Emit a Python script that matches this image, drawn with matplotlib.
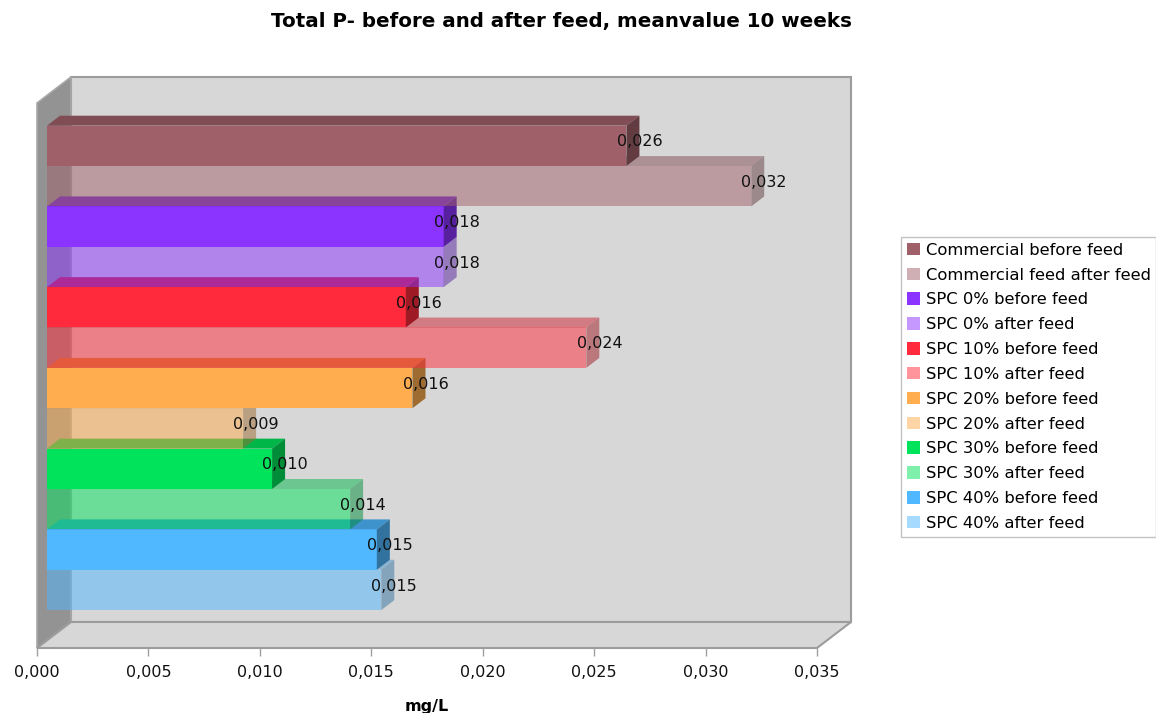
import numpy as np
import matplotlib.pyplot as plt
from matplotlib.patches import Polygon, Patch
from matplotlib.colors import to_rgb
from matplotlib.ticker import FuncFormatter

title = 'Total P- before and after feed, meanvalue 10 weeks'
series = ['Commercial before feed', 'Commercial feed after feed',
          'SPC 0% before feed', 'SPC 0% after feed',
          'SPC 10% before feed', 'SPC 10% after feed',
          'SPC 20% before feed', 'SPC 20% after feed',
          'SPC 30% before feed', 'SPC 30% after feed',
          'SPC 40% before feed', 'SPC 40% after feed']
values = [0.0260, 0.0316, 0.0178, 0.0178, 0.0161, 0.0242,
          0.0164, 0.0088, 0.0101, 0.0136, 0.0148, 0.0150]
group_colors = ['#a0606a', '#8b33ff', '#ff2a3c', '#ffad4f', '#00e35a', '#4fb8ff']
x_max = 0.035
x_step = 0.005

W, H = 1156, 713
fig = plt.figure(figsize=(W / 100, H / 100), dpi=100)
ax = fig.add_axes([37 / W, 65 / H, 780 / W, 545 / H])
y_top = 13.5
ax.set_xlim(0, x_max)
ax.set_ylim(0, y_top)
for s in ax.spines.values():
    s.set_visible(False)
ax.patch.set_visible(False)

# pixel -> data scale, depth runs up and to the right
sx = x_max / 780
sy = y_top / 545
slope = 26 / 34


def shift(x, y, d):
    return (x + d * sx, y + d * slope * sy)


def shade(c, f):
    return tuple(np.array(to_rgb(c)) * f)


wall_edge = '#9c9c9c'
# back wall, side wall and floor
ax.add_patch(Polygon([shift(0, 0, 34), shift(x_max, 0, 34), shift(x_max, y_top, 34), shift(0, y_top, 34)],
                     closed=True, facecolor='#d7d7d7', edgecolor=wall_edge, lw=1.5, clip_on=False, zorder=1))
ax.add_patch(Polygon([(0, 0), (0, y_top), shift(0, y_top, 34), shift(0, 0, 34)],
                     closed=True, facecolor='#939393', edgecolor='#a8a8a8', lw=1.2, clip_on=False, zorder=1))
ax.add_patch(Polygon([(0, 0), (x_max, 0), shift(x_max, 0, 34), shift(0, 0, 34)],
                     closed=True, facecolor='#d7d7d7', edgecolor=wall_edge, lw=1.5, clip_on=False, zorder=1))

colors = [group_colors[i // 2] for i in range(len(series))]
alphas = [1.0 if i % 2 == 0 else 0.5 for i in range(len(series))]

d0, d1 = 10, 23
n = len(series)
z = 2
for i in reversed(range(n)):
    v = values[i]
    y0 = 0.75 + (n - 1 - i)
    y1 = y0 + 1
    c, a = colors[i], alphas[i]
    front = [shift(0, y0, d0), shift(v, y0, d0), shift(v, y1, d0), shift(0, y1, d0)]
    top = [shift(0, y1, d0), shift(v, y1, d0), shift(v, y1, d1), shift(0, y1, d1)]
    right = [shift(v, y0, d0), shift(v, y0, d1), shift(v, y1, d1), shift(v, y1, d0)]
    for pts, f in ((front, 1.0), (top, 0.8), (right, 0.62)):
        ax.add_patch(Polygon(pts, closed=True, facecolor=shade(c, f), alpha=a,
                             lw=0, clip_on=False, zorder=z))
        z += 1

# value labels
for i, v in enumerate(values):
    yc = 0.75 + (n - 1 - i) + 0.5
    tx = v + d1 * sx
    ty = yc + 15 * slope * sy
    ax.text(tx, ty, f'{v:.3f}'.replace('.', ','), ha='center', va='center',
            fontsize=11.5, color='#111111', zorder=100, clip_on=False)

ax.set_xticks(np.arange(0, x_max + x_step / 2, x_step))
ax.xaxis.set_major_formatter(FuncFormatter(lambda v, _: f'{v:.3f}'.replace('.', ',')))
ax.set_yticks([])
ax.tick_params(axis='x', direction='out', length=6, width=1, color='#a0a0a0',
               labelsize=11.5, pad=6, labelcolor='#111111')
ax.set_xlabel('mg/L', fontsize=11.5, fontweight='bold', labelpad=14)

fig.text(561.5 / W, 1 - 21 / H, title, ha='center', va='center',
         fontsize=14.3, fontweight='bold')

handles = [Patch(facecolor=c, alpha=a, edgecolor='none') for c, a in zip(colors, alphas)]
leg = fig.legend(handles, series, loc='upper left', bbox_to_anchor=(901 / W, 1 - 237 / H),
                 frameon=True, fancybox=False, edgecolor='#b4b4b4', fontsize=11.8,
                 handlelength=0.8, handleheight=0.8, handletextpad=0.35,
                 labelspacing=0.6, borderpad=0.35, borderaxespad=0)
leg.get_frame().set_linewidth(1.0)

fig.savefig('out.png', dpi=100)
